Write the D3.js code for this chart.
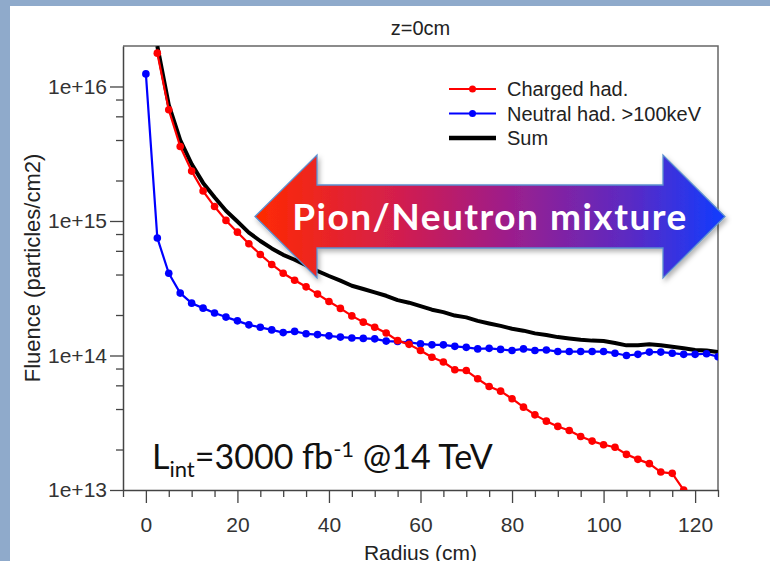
<!DOCTYPE html>
<html>
<head>
<meta charset="utf-8">
<script src="https://cdn.jsdelivr.net/npm/d3@7"></script>
<style>
  body { margin: 0; background: #fff; }
  svg { display: block; }
</style>
</head>
<body>
<div id="chart"></div>
<script>
// radius (cm) of each sample
const radius = [0, 2.5, 5, 7.5, 10, 12.5, 15, 17.5, 20, 22.5, 25, 27.5, 30, 32.5, 35, 37.5, 40, 42.5, 45, 47.5,
  50, 52.5, 55, 57.5, 60, 62.5, 65, 67.5, 70, 72.5, 75, 77.5, 80, 82.5, 85, 87.5, 90, 92.5, 95, 97.5,
  100, 102.5, 105, 107.5, 110, 112.5, 115, 117.5, 120, 122.5, 125];

// fluence, particles/cm2
const charged = [null, 1.77e16, 6.71e15, 3.58e15, 2.35e15, 1.67e15, 1.28e15, 1.01e15, 8.26e14, 6.77e14,
  5.64e14, 4.75e14, 4.09e14, 3.63e14, 3.24e14, 2.86e14, 2.52e14, 2.24e14, 1.97e14, 1.77e14,
  1.62e14, 1.47e14, 1.29e14, 1.21e14, 1.09e14, 9.71e13, 8.95e13, 7.83e13, 7.73e13, 6.71e13,
  5.88e13, 5.43e13, 4.77e13, 4.13e13, 3.62e13, 3.25e13, 2.97e13, 2.77e13, 2.50e13, 2.31e13,
  2.17e13, 2.08e13, 1.84e13, 1.69e13, 1.57e13, 1.36e13, 1.33e13, 1.0e13, 7.5e12, null, null];

const neutral = [1.24e16, 7.48e14, 4.09e14, 2.91e14, 2.45e14, 2.25e14, 2.07e14, 1.93e14, 1.81e14, 1.69e14,
  1.62e14, 1.55e14, 1.48e14, 1.51e14, 1.45e14, 1.43e14, 1.40e14, 1.37e14, 1.35e14, 1.34e14,
  1.33e14, 1.28e14, 1.27e14, 1.25e14, 1.22e14, 1.20e14, 1.20e14, 1.17e14, 1.15e14, 1.12e14,
  1.13e14, 1.11e14, 1.09e14, 1.12e14, 1.09e14, 1.10e14, 1.07e14, 1.07e14, 1.07e14, 1.07e14,
  1.07e14, 1.04e14, 1.00e14, 1.02e14, 1.06e14, 1.06e14, 1.04e14, 1.02e14, 1.02e14, 1.03e14, 0.98e14];

const sum = [null, 2.0e16, 7.3e15, 4.0e15, 2.65e15, 1.92e15, 1.5e15, 1.19e15, 9.9e14, 8.2e14,
  7.1e14, 6.25e14, 5.6e14, 5.15e14, 4.7e14, 4.25e14, 3.9e14, 3.6e14, 3.3e14, 3.12e14,
  2.95e14, 2.78e14, 2.58e14, 2.47e14, 2.33e14, 2.19e14, 2.1e14, 1.98e14, 1.92e14, 1.81e14,
  1.73e14, 1.66e14, 1.58e14, 1.53e14, 1.46e14, 1.42e14, 1.37e14, 1.34e14, 1.31e14, 1.29e14,
  1.28e14, 1.24e14, 1.19e14, 1.19e14, 1.21e14, 1.19e14, 1.16e14, 1.13e14, 1.10e14, 1.09e14, 1.06e14];

const seriesNames = ["Charged had.", "Neutral had. >100keV", "Sum"];
const seriesColors = ["#ff0000", "#0000ff", "#000000"];

const xMajorTicks = [0, 20, 40, 60, 80, 100, 120];
const yMajorTicks = [1e13, 1e14, 1e15, 1e16];

const titleText = "z=0cm";
const xLabel = "Radius (cm)";
const yLabel = "Fluence (particles/cm2)";
const arrowText = "Pion/Neutron mixture";

const W = 770, H = 561;
const margin = {top: 46, right: 52, bottom: 71, left: 123};
const width = W - margin.left - margin.right;
const height = H - margin.top - margin.bottom;
const axisFont = "'Liberation Sans', Arial, sans-serif";
const calibri = "Lato, 'Open Sans', sans-serif";

const svg = d3.select("#chart").append("svg")
  .attr("width", W)
  .attr("height", H);

// slide background band + white panel
svg.append("rect").attr("width", W).attr("height", H).attr("fill", "#8faacb");
svg.append("rect").attr("x", 10).attr("y", 6).attr("width", W - 10).attr("height", H - 6).attr("fill", "#fff");

const defs = svg.append("defs");
defs.append("clipPath").attr("id", "plotclip")
  .append("rect").attr("width", width).attr("height", height);

const grad = defs.append("linearGradient").attr("id", "arrowgrad")
  .attr("x1", "0%").attr("x2", "100%").attr("y1", "0%").attr("y2", "0%");
grad.append("stop").attr("offset", "0%").attr("stop-color", "#ff2a00");
grad.append("stop").attr("offset", "30%").attr("stop-color", "#d41f4c");
grad.append("stop").attr("offset", "55%").attr("stop-color", "#9a1f8e");
grad.append("stop").attr("offset", "80%").attr("stop-color", "#5a2ac4");
grad.append("stop").attr("offset", "100%").attr("stop-color", "#103cff");

const shadow = defs.append("filter").attr("id", "shadow")
  .attr("x", "-10%").attr("y", "-20%").attr("width", "120%").attr("height", "150%");
shadow.append("feDropShadow").attr("dx", 2).attr("dy", 3).attr("stdDeviation", 2.5)
  .attr("flood-color", "#000").attr("flood-opacity", 0.3);

const g = svg.append("g").attr("transform", `translate(${margin.left},${margin.top})`);

const x = d3.scaleLinear().domain([-5, 125]).range([0, width]);
const y = d3.scaleLog().domain([1e13, 2e16]).range([height, 0]);

// frame (top & right)
g.append("path")
  .attr("d", `M0,0H${width}V${height}`)
  .attr("fill", "none").attr("stroke", "#666").attr("stroke-width", 1.5);

// x axis: minor ticks every 5 cm, major every 20 cm
const xMinor = d3.range(-5, 126, 5).filter(v => xMajorTicks.indexOf(v) < 0);
g.append("g").attr("transform", `translate(0,${height})`)
  .call(d3.axisBottom(x).tickValues(xMinor).tickSize(7).tickSizeOuter(0).tickFormat(""))
  .call(a => a.select(".domain").attr("stroke", "#444").attr("stroke-width", 1.5))
  .call(a => a.selectAll(".tick line").attr("stroke", "#444").attr("stroke-width", 1.3));

g.append("g").attr("transform", `translate(0,${height})`)
  .call(d3.axisBottom(x).tickValues(xMajorTicks).tickSize(13).tickSizeOuter(0).tickPadding(14))
  .call(a => a.select(".domain").remove())
  .call(a => a.selectAll(".tick line").attr("stroke", "#444").attr("stroke-width", 1.3))
  .call(a => a.selectAll(".tick text").attr("font-family", axisFont).attr("font-size", 21).attr("fill", "#333"));

// y axis: log, minor at 2,4,6,8
const yMinor = [];
yMajorTicks.slice(0, 3).forEach(d => [2, 4, 6, 8].forEach(m => yMinor.push(d * m)));
g.append("g")
  .call(d3.axisLeft(y).tickValues(yMinor).tickSize(7).tickSizeOuter(0).tickFormat(""))
  .call(a => a.select(".domain").attr("stroke", "#444").attr("stroke-width", 1.5))
  .call(a => a.selectAll(".tick line").attr("stroke", "#444").attr("stroke-width", 1.3));

g.append("g")
  .call(d3.axisLeft(y).tickValues(yMajorTicks).tickSize(13).tickSizeOuter(0).tickPadding(3)
    .tickFormat(d => "1e+" + Math.round(Math.log10(d))))
  .call(a => a.select(".domain").remove())
  .call(a => a.selectAll(".tick line").attr("stroke", "#444").attr("stroke-width", 1.3))
  .call(a => a.selectAll(".tick text").attr("font-family", axisFont).attr("font-size", 21).attr("fill", "#333"));

// labels
svg.append("text").attr("x", margin.left + width / 2).attr("y", 35)
  .attr("text-anchor", "middle").attr("font-family", axisFont).attr("font-size", 20).attr("fill", "#222")
  .text(titleText);

svg.append("text").attr("x", margin.left + width / 2).attr("y", 560)
  .attr("text-anchor", "middle").attr("font-family", axisFont).attr("font-size", 21).attr("fill", "#222")
  .text(xLabel);

svg.append("text")
  .attr("transform", `translate(40,${margin.top + height / 2}) rotate(-90)`)
  .attr("text-anchor", "middle").attr("font-family", axisFont).attr("font-size", 22).attr("fill", "#222")
  .text(yLabel);

// series
const rows = radius.map((r, i) => ({r: r, c: charged[i], n: neutral[i], s: sum[i]}));
const plot = g.append("g").attr("clip-path", "url(#plotclip)");

function lineFor(key) {
  return d3.line()
    .defined(d => d[key] != null)
    .x(d => x(d.r))
    .y(d => y(d[key]));
}

plot.append("path").datum(rows)
  .attr("d", lineFor("s"))
  .attr("fill", "none").attr("stroke", seriesColors[2]).attr("stroke-width", 4)
  .attr("stroke-linejoin", "round");

[["n", seriesColors[1]], ["c", seriesColors[0]]].forEach(([key, col]) => {
  plot.append("path").datum(rows)
    .attr("d", lineFor(key))
    .attr("fill", "none").attr("stroke", col).attr("stroke-width", 2.2)
    .attr("stroke-linejoin", "round");
  plot.selectAll(".pt-" + key).data(rows.filter(d => d[key] != null))
    .enter().append("circle")
    .attr("class", "pt-" + key)
    .attr("cx", d => x(d.r))
    .attr("cy", d => y(d[key]))
    .attr("r", 3.8)
    .attr("fill", col);
});

// legend
const legend = svg.append("g").attr("transform", "translate(449,89)");
seriesNames.forEach((name, i) => {
  const row = legend.append("g").attr("transform", `translate(0,${i * 24.5})`);
  row.append("line").attr("x1", 0).attr("x2", 47).attr("y1", 0).attr("y2", 0)
    .attr("stroke", seriesColors[i]).attr("stroke-width", i === 2 ? 4.5 : 2.2);
  if (i < 2) {
    row.append("circle").attr("cx", 23.5).attr("cy", 0).attr("r", 3.5).attr("fill", seriesColors[i]);
  }
  row.append("text").attr("x", 58).attr("y", 7)
    .attr("font-family", axisFont).attr("font-size", 20).attr("fill", "#222")
    .text(name);
});

// luminosity annotation
const lum = svg.append("text").attr("x", 152).attr("y", 469)
  .attr("font-family", calibri).attr("font-size", 34).attr("fill", "#111");
lum.append("tspan").text("L");
lum.append("tspan").attr("font-size", 22).attr("dy", 8).text("int");
lum.append("tspan").attr("dy", -8).text("=3000 fb");
lum.append("tspan").attr("font-size", 22).attr("dy", -12).text("-1");
lum.append("tspan").attr("dy", 12).text(" @14 TeV");

// double arrow annotation
const arrow = {left: 255, right: 725, cy: 216.5, head: 62, headH: 61.5, shaftH: 31.5};
const arrowPath = d3.path();
arrowPath.moveTo(arrow.left, arrow.cy);
arrowPath.lineTo(arrow.left + arrow.head, arrow.cy - arrow.headH);
arrowPath.lineTo(arrow.left + arrow.head, arrow.cy - arrow.shaftH);
arrowPath.lineTo(arrow.right - arrow.head, arrow.cy - arrow.shaftH);
arrowPath.lineTo(arrow.right - arrow.head, arrow.cy - arrow.headH);
arrowPath.lineTo(arrow.right, arrow.cy);
arrowPath.lineTo(arrow.right - arrow.head, arrow.cy + arrow.headH);
arrowPath.lineTo(arrow.right - arrow.head, arrow.cy + arrow.shaftH);
arrowPath.lineTo(arrow.left + arrow.head, arrow.cy + arrow.shaftH);
arrowPath.lineTo(arrow.left + arrow.head, arrow.cy + arrow.headH);
arrowPath.closePath();

svg.append("path").attr("d", arrowPath.toString())
  .attr("fill", "url(#arrowgrad)")
  .attr("stroke", "#5b8fd0").attr("stroke-width", 1.3)
  .attr("filter", "url(#shadow)");

svg.append("text").attr("x", (arrow.left + arrow.right) / 2).attr("y", arrow.cy + 13)
  .attr("text-anchor", "middle")
  .attr("font-family", calibri).attr("font-weight", "bold").attr("font-size", 37)
  .attr("letter-spacing", 1.5).attr("fill", "#fff")
  .text(arrowText);
</script>
</body>
</html>
